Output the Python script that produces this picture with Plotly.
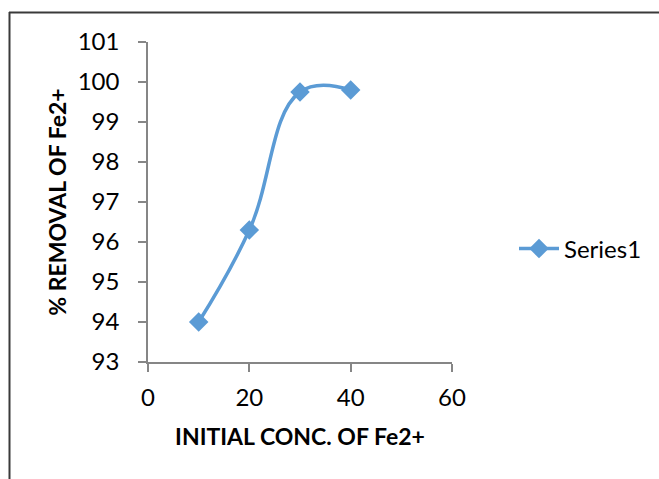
import plotly.graph_objects as go

conc = [10, 20, 30, 40]
removal = [94.0, 96.3, 99.75, 99.8]
x_ticks = [0, 20, 40, 60]
y_ticks = [93, 94, 95, 96, 97, 98, 99, 100, 101]
series_name = "Series1"

W, H = 659, 479
L, R, T, B = 148, 207, 42, 117
pw, ph = W - L - R, H - T - B

def px_x(p):
    return (p - L) / pw

def px_y(p):
    return (H - B - p) / ph

font = "Lato, Calibri, Carlito, sans-serif"
axis_col = "#868686"
blue = "#5B9BD5"

fig = go.Figure()
fig.add_trace(go.Scatter(
    x=conc, y=removal, name=series_name, mode="lines+markers",
    line=dict(color=blue, width=3.5, shape="spline", smoothing=1.2),
    marker=dict(symbol="diamond", size=15, color=blue),
))

fig.update_layout(
    width=W, height=H,
    margin=dict(l=L, r=R, t=T, b=B, autoexpand=False),
    paper_bgcolor="white", plot_bgcolor="white",
    font=dict(family=font, size=22, color="#000000"),
    showlegend=True,
    legend=dict(x=px_x(514), y=px_y(249), xanchor="left", yanchor="middle",
                font=dict(size=24), bgcolor="rgba(0,0,0,0)", itemwidth=40),
    xaxis=dict(range=[0, 60], tickvals=x_ticks, showgrid=False, zeroline=False,
               showline=True, linecolor=axis_col, linewidth=1.5,
               ticks="outside", ticklen=8, tickcolor=axis_col, tickwidth=1.5,
               ticklabelstandoff=5, automargin=False,
               tickfont=dict(size=24, family=font),
               title=dict(text="<b>INITIAL CONC. OF Fe2+</b>", font=dict(size=23), standoff=19)),
    yaxis=dict(range=[93, 101], tickvals=y_ticks, showgrid=False, zeroline=False,
               showline=True, linecolor=axis_col, linewidth=1.5,
               ticks="outside", ticklen=8, tickcolor=axis_col, tickwidth=1.5,
               ticklabelstandoff=14, automargin=False,
               tickfont=dict(size=24, family=font),
               title=dict(text="<b>% REMOVAL OF Fe2+</b>", font=dict(size=23), standoff=5)),
    shapes=[
        dict(type="line", xref="paper", yref="paper", x0=px_x(9), x1=px_x(662),
             y0=px_y(12.5), y1=px_y(12.5), line=dict(color="#3a3a3a", width=2)),
        dict(type="line", xref="paper", yref="paper", x0=px_x(9.5), x1=px_x(9.5),
             y0=px_y(12), y1=px_y(482), line=dict(color="#3a3a3a", width=2)),
    ],
)

fig.write_html("out.html")
